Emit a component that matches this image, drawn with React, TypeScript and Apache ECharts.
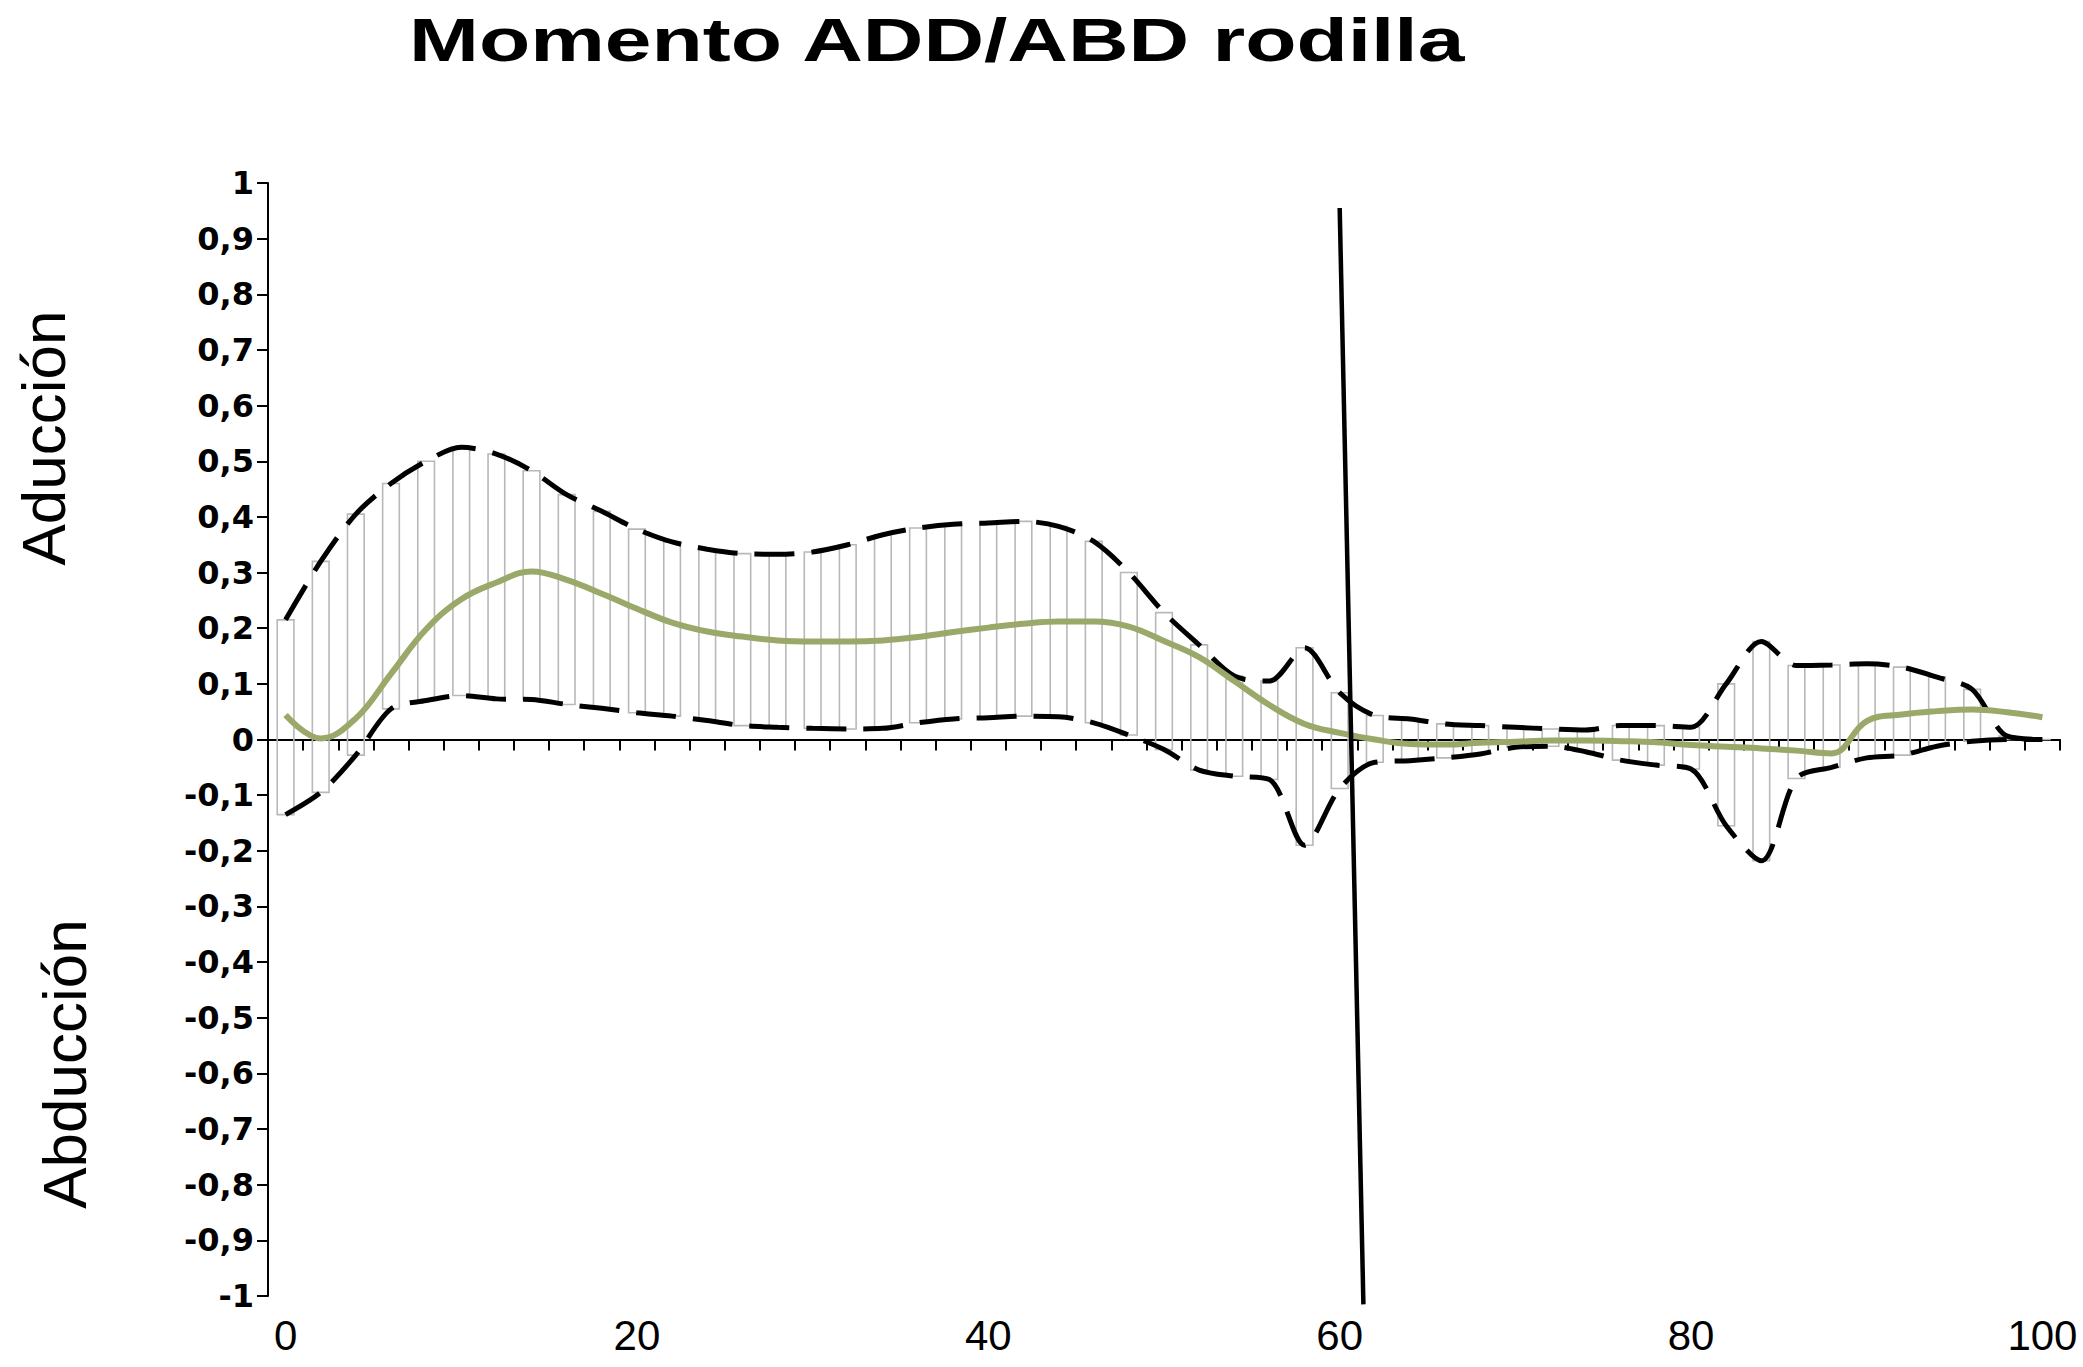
import React, { useEffect, useRef } from "react";
import * as echarts from "echarts";

// Percentage of the cycle (one point every 2 %)
const xs = [0, 2, 4, 6, 8, 10, 12, 14, 16, 18, 20, 22, 24, 26, 28, 30, 32, 34, 36, 38, 40, 42, 44, 46, 48, 50, 52, 54, 56, 58, 60, 62, 64, 66, 68, 70, 72, 74, 76, 78, 80, 82, 84, 86, 88, 90, 92, 94, 96, 98, 100];

// Upper band (dashed line, top of the boxes)
const upper = [0.215, 0.32, 0.405, 0.46, 0.5, 0.525, 0.513, 0.483, 0.44, 0.41, 0.378, 0.355, 0.342, 0.334, 0.333, 0.337, 0.35, 0.368, 0.38, 0.387, 0.389, 0.392, 0.383, 0.356, 0.3, 0.228, 0.17, 0.114, 0.105, 0.165, 0.084, 0.043, 0.037, 0.028, 0.025, 0.022, 0.019, 0.017, 0.025, 0.025, 0.022, 0.1, 0.176, 0.133, 0.134, 0.136, 0.13, 0.112, 0.09, 0.006, 0.0];

// Lower band (dashed line, bottom of the boxes)
const lower = [-0.135, -0.095, -0.028, 0.055, 0.07, 0.079, 0.073, 0.072, 0.063, 0.056, 0.048, 0.042, 0.034, 0.025, 0.022, 0.02, 0.019, 0.02, 0.03, 0.037, 0.039, 0.042, 0.041, 0.03, 0.008, -0.018, -0.055, -0.066, -0.072, -0.19, -0.088, -0.041, -0.038, -0.033, -0.026, -0.014, -0.012, -0.022, -0.037, -0.046, -0.053, -0.155, -0.218, -0.07, -0.05, -0.033, -0.028, -0.012, -0.003, 0.0, 0.0];

// Mean curve (green)
const mean = [0.044, 0.002, 0.038, 0.118, 0.198, 0.252, 0.282, 0.302, 0.287, 0.262, 0.235, 0.21, 0.194, 0.185, 0.178, 0.176, 0.176, 0.178, 0.184, 0.193, 0.201, 0.208, 0.212, 0.212, 0.203, 0.177, 0.148, 0.105, 0.062, 0.028, 0.012, 0.0, -0.008, -0.009, -0.006, -0.004, -0.002, -0.002, -0.003, -0.005, -0.01, -0.013, -0.016, -0.02, -0.025, 0.033, 0.045, 0.051, 0.054, 0.049, 0.04];

// Toe-off marker line (two end points)
const toeOffLine = [[60, 0.955], [61.35, -1.015]];

// Axis tick labels
const yTickLabels = ["-1", "-0,9", "-0,8", "-0,7", "-0,6", "-0,5", "-0,4", "-0,3", "-0,2", "-0,1", "0", "0,1", "0,2", "0,3", "0,4", "0,5", "0,6", "0,7", "0,8", "0,9", "1"];
const xTickLabels = [0, 20, 40, 60, 80, 100];
const xMinorTicks = [1, 3, 5, 7, 9, 11, 13, 15, 17, 19, 21, 23, 25, 27, 29, 31, 33, 35, 37, 39, 41, 43, 45, 47, 49, 51, 53, 55, 57, 59, 61, 63, 65, 67, 69, 71, 73, 75, 77, 79, 81, 83, 85, 87, 89, 91, 93, 95, 97, 99, 101];

const title = "Momento ADD/ABD rodilla";
const upperName = "Aducción";
const lowerName = "Abducción";

export default function App() {
  const ref = useRef<HTMLDivElement>(null);

  useEffect(() => {
    if (!ref.current) return;
    const chart = echarts.init(ref.current, null, { renderer: "svg" });

    const boxData = xs.map((x, i) => [x, lower[i], upper[i]]);
    const upperData = xs.map((x, i) => [x, upper[i]]);
    const lowerData = xs.map((x, i) => [x, lower[i]]);
    const meanData = xs.map((x, i) => [x, mean[i]]);

    const option: any = {
      animation: false,
      backgroundColor: "#ffffff",
      grid: { left: 268, top: 183, width: 1792, height: 1113, containLabel: false },
      xAxis: [
        {
          type: "value",
          min: -1,
          max: 101,
          position: "bottom",
          axisLine: { show: true, onZero: true, lineStyle: { color: "#000", width: 2 } },
          axisTick: { show: true, customValues: xMinorTicks, length: 11, lineStyle: { color: "#000", width: 2 } },
          axisLabel: { show: false },
          splitLine: { show: false },
        },
        {
          type: "value",
          min: -1,
          max: 101,
          position: "bottom",
          axisLine: { show: false, onZero: false },
          axisTick: { show: false },
          axisLabel: {
            show: true,
            customValues: xTickLabels,
            fontSize: 42,
            color: "#000",
            margin: 18,
            fontFamily: "'Liberation Sans Narrow', 'Liberation Sans', Arial, sans-serif",
            formatter: (v: number) => String(v),
          },
          splitLine: { show: false },
        },
      ],
      yAxis: {
        type: "value",
        min: -1,
        max: 1,
        interval: 0.1,
        position: "left",
        axisLine: { show: true, onZero: false, lineStyle: { color: "#000", width: 2 } },
        axisTick: { show: true, length: 11, lineStyle: { color: "#000", width: 2 } },
        axisLabel: {
          fontSize: 32,
          fontWeight: "bold",
          color: "#000",
          margin: 14,
          fontFamily: "'DejaVu Sans', sans-serif",
          formatter: (v: number) => yTickLabels[Math.round((v + 1) * 10)],
        },
        splitLine: { show: false },
      },
      series: [
        {
          type: "custom",
          name: "range",
          z: 2,
          xAxisIndex: 0,
          yAxisIndex: 0,
          encode: { x: 0, y: [1, 2] },
          data: boxData,
          renderItem: (params: any, api: any) => {
            const x = api.value(0);
            const lo = api.value(1);
            const hi = api.value(2);
            const pHi = api.coord([x, hi]);
            const pLo = api.coord([x, lo]);
            const w = api.size([0.95, 0])[0];
            return {
              type: "rect",
              shape: { x: pHi[0] - w / 2, y: pHi[1], width: w, height: pLo[1] - pHi[1] },
              style: { fill: "none", stroke: "#b8b8b8", lineWidth: 1.6 },
            };
          },
        },
        {
          type: "line",
          name: "upper",
          z: 3,
          data: upperData,
          smooth: 0.3,
          symbol: "none",
          lineStyle: { color: "#000", width: 5, type: [40, 17] },
        },
        {
          type: "line",
          name: "lower",
          z: 3,
          data: lowerData,
          smooth: 0.3,
          symbol: "none",
          lineStyle: { color: "#000", width: 5, type: [40, 17] },
        },
        {
          type: "line",
          name: "mean",
          z: 4,
          data: meanData,
          smooth: 0.4,
          symbol: "none",
          lineStyle: { color: "#9aa86a", width: 6 },
        },
        {
          type: "line",
          name: "toe-off",
          z: 5,
          data: toeOffLine,
          clip: false,
          symbol: "none",
          lineStyle: { color: "#000", width: 4.5 },
        },
      ],
      graphic: [
        {
          type: "text",
          x: 409,
          y: 40,
          scaleX: 1.354,
          style: {
            text: title,
            font: "bold 62px 'Liberation Sans', Arial, sans-serif",
            fill: "#000",
            textAlign: "left",
            textVerticalAlign: "middle",
          },
        },
        {
          type: "text",
          x: 43,
          y: 438,
          rotation: Math.PI / 2,
          style: {
            text: upperName,
            font: "62px 'Liberation Sans', Arial, sans-serif",
            fill: "#000",
            textAlign: "center",
            textVerticalAlign: "middle",
          },
        },
        {
          type: "text",
          x: 64,
          y: 1064,
          rotation: Math.PI / 2,
          style: {
            text: lowerName,
            font: "62px 'Liberation Sans', Arial, sans-serif",
            fill: "#000",
            textAlign: "center",
            textVerticalAlign: "middle",
          },
        },
      ],
    };

    chart.setOption(option);
    return () => chart.dispose();
  }, []);

  return (
    <div
      ref={ref}
      style={{ position: "absolute", left: 0, top: 0, width: 2083, height: 1367, background: "#fff" }}
    />
  );
}
